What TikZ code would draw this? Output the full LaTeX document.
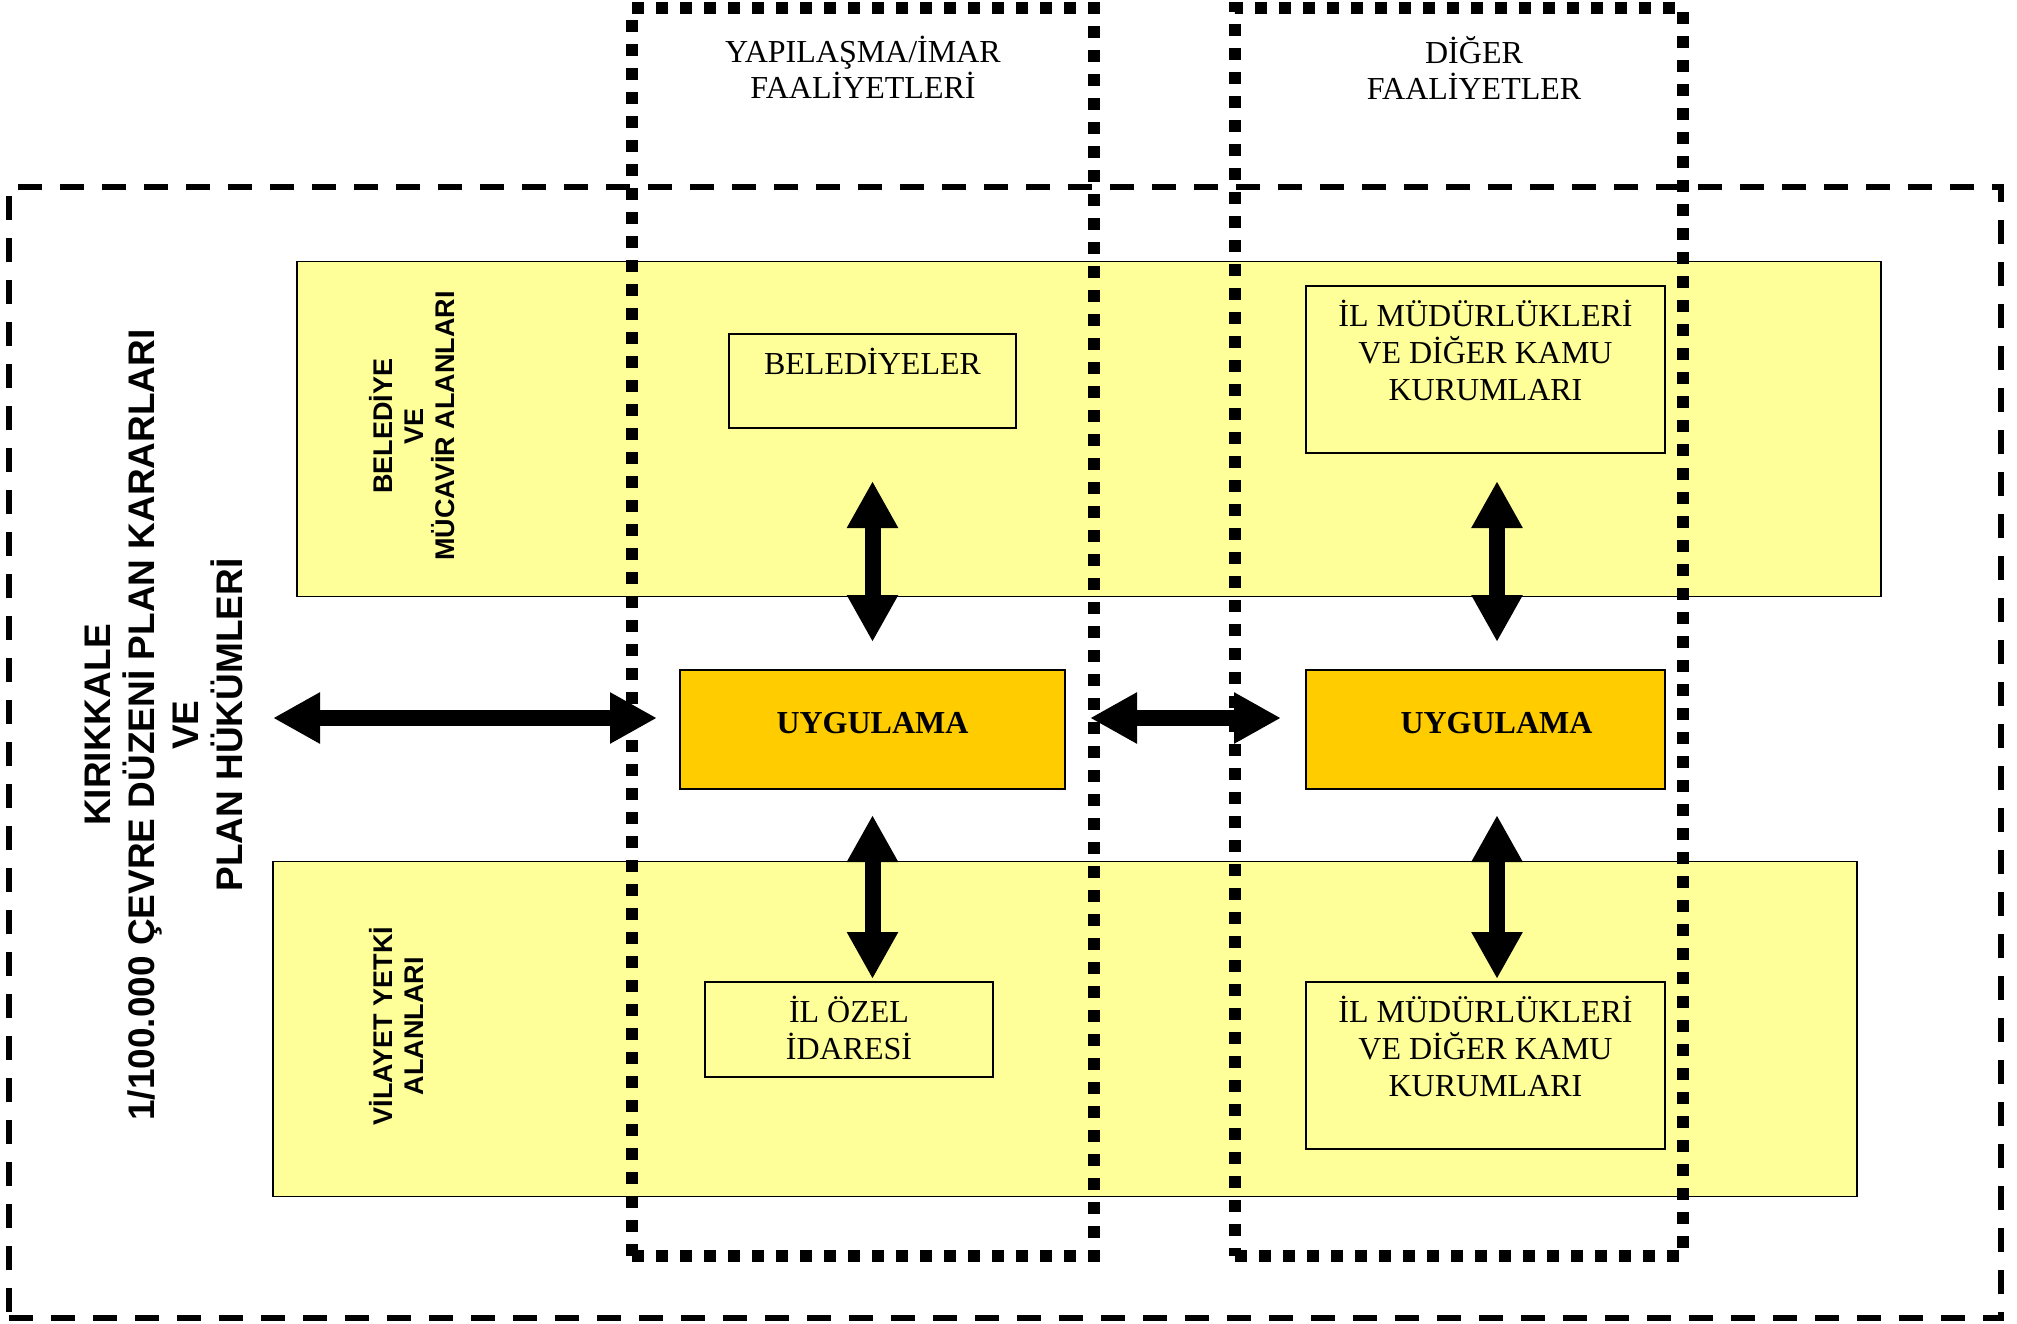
\documentclass[tikz,border=0pt]{standalone}
\usepackage{fontspec}
\setmainfont{Liberation Serif}
\setsansfont{Liberation Sans}
\usetikzlibrary{arrows.meta,positioning}

\definecolor{paleyellow}{RGB}{255,255,153}
\definecolor{uyggold}{RGB}{255,204,0}

\begin{document}
\begin{tikzpicture}[x=0.5pt,y=-0.5pt,
		area/.style={draw, line width=0.8pt, fill=paleyellow, inner sep=0pt,
			minimum width=792pt, minimum height=167.5pt},
		unit/.style={draw, line width=1pt, fill=paleyellow, inner sep=0pt},
		unittxt/.style={anchor=north, yshift=-7.5pt, inner sep=0pt, align=center,
			font=\fontsize{16}{18.5}\selectfont},
		uyg/.style={draw, line width=1pt, fill=uyggold, inner sep=0pt,
			minimum height=59.5pt},
		uygtxt/.style={anchor=center, yshift=3pt, inner sep=0pt,
			font=\bfseries\fontsize{16}{18}\selectfont},
		colframe/.style={draw, line width=6pt, dash pattern=on 6pt off 6pt,
			inner sep=0pt, minimum height=624pt},
		coltxt/.style={anchor=north, yshift=-17pt, inner sep=0pt, align=center,
			font=\fontsize{16}{18}\selectfont},
		frame/.style={draw, line width=3pt, dash pattern=on 12pt off 9pt, inner sep=0pt},
		sidetxt/.style={rotate=90, align=center, inner sep=0pt,
			font=\sffamily\bfseries\fontsize{13.5}{15.5}\selectfont},
		titletxt/.style={rotate=90, align=center, inner sep=0pt,
			font=\sffamily\bfseries\fontsize{18.5}{22}\selectfont},
		bigarrow/.style={{Triangle[length=23.5pt,width=24pt]}-{Triangle[length=23.5pt,width=24pt]},
			line width=8pt}
	]
		\useasboundingbox (0,0) rectangle (2017,1323);

		% yellow bands
		\node[area] (belarea) at (1089,429) {};
		\node[area] (vilarea) at (1065,1029) {};
		\node[sidetxt] (beltxt) at (412,426) {BELEDİYE\\VE\\MÜCAVİR ALANLARI};
		\node[sidetxt] (viltxt) at (396.5,1026) {VİLAYET YETKİ\\ALANLARI};

		% boxes
		\node[unit, minimum width=143.5pt, minimum height=47pt,
			label={[unittxt]north:BELEDİYELER}] (bel) at (872.5,381) {};
		\node[unit, minimum width=179.5pt, minimum height=83.5pt,
			label={[unittxt]north:İL MÜDÜRLÜKLERİ\\VE DİĞER KAMU\\KURUMLARI}] (ilmud1) at (1485.5,369.5) {};
		\node[uyg, minimum width=192.5pt,
			label={[uygtxt]center:UYGULAMA}] (uyg1) at (872.5,729.5) {};
		\node[uyg, minimum width=179.5pt,
			label={[uygtxt, xshift=5.5pt]center:UYGULAMA}] (uyg2) at (1485.5,729.5) {};
		\node[unit, minimum width=144pt, minimum height=47.5pt,
			label={[unittxt]north:İL ÖZEL\\İDARESİ}] (ozel) at (849,1029.5) {};
		\node[unit, minimum width=179.5pt, minimum height=83.5pt,
			label={[unittxt]north:İL MÜDÜRLÜKLERİ\\VE DİĞER KAMU\\KURUMLARI}] (ilmud2) at (1485.5,1065.5) {};

		% activity columns and frame
		\node[colframe, minimum width=231pt,
			label={[coltxt]north:YAPILAŞMA/İMAR\\FAALİYETLERİ}] (imar) at (863,632) {};
		\node[colframe, minimum width=224pt,
			label={[coltxt, xshift=7.5pt]north:DİĞER\\FAALİYETLER}] (diger) at (1459,632) {};
		\node[frame, minimum width=996pt, minimum height=565.5pt] (cdp) at (1005,752.5) {};

		\node[titletxt] (plan) at (164,725)
			{KIRIKKALE\\1/100.000 ÇEVRE DÜZENİ PLAN KARARLARI\\VE\\PLAN HÜKÜMLERİ};

		% arrows
		\coordinate (la) at (273,718);
		\coordinate (lb) at (657,718);
		\coordinate (ma) at (1090,718);
		\coordinate (mb) at (1281,718);
		\draw[bigarrow] (la) -- (lb);
		\draw[bigarrow] (ma) -- (mb);
		\draw[bigarrow, shorten <=13.5pt, shorten >=26pt] (uyg1.north) -- (bel.south);
		\draw[bigarrow, shorten <=12.5pt, shorten >=1pt] (uyg1.south) -- (uyg1.south |- ozel.north);
		\draw[bigarrow, shorten <=13.5pt, shorten >=13.5pt]
			([xshift=5.75pt]uyg2.north) -- ([xshift=5.75pt]ilmud1.south);
		\draw[bigarrow, shorten <=12.5pt, shorten >=1pt]
			([xshift=5.75pt]uyg2.south) -- ([xshift=5.75pt]ilmud2.north);
	\end{tikzpicture}
\end{document}
